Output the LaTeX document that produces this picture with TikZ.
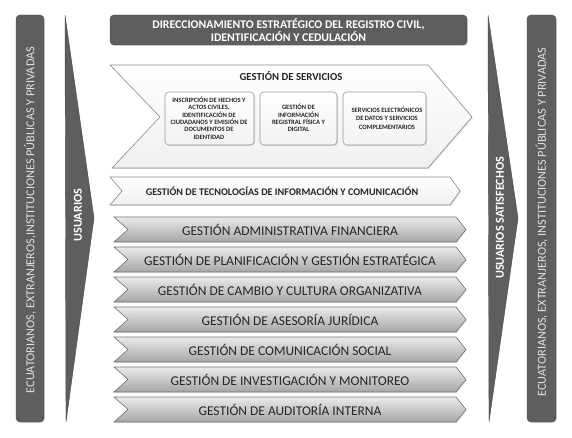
\documentclass[tikz,border=0pt]{standalone}
\usepackage{fontspec}
\setmainfont{Carlito}
\usetikzlibrary{shadows}
\definecolor{barfill}{HTML}{5E5E5E}
\definecolor{bardraw}{HTML}{4A4A4A}
\definecolor{chevdraw}{HTML}{8A8A8A}
\tikzset{
  bar/.style={fill=barfill, draw=bardraw, rounded corners=4bp, drop shadow={opacity=0.25,shadow xshift=1bp,shadow yshift=-1bp}},
  tri/.style={fill=barfill, draw=bardraw},
  bartext/.style={text=white!88!black, font=\fontsize{12.3}{14}\selectfont, rotate=90},
  tritext/.style={text=white, font=\bfseries\fontsize{12.2}{14}\selectfont, rotate=90},
  bigchev/.style={top color=white, bottom color=black!6, draw=chevdraw, line width=0.6bp, drop shadow={opacity=0.2,shadow xshift=1bp,shadow yshift=-1bp}},
  graychev/.style={top color=black!8, bottom color=black!35, draw=black!55, line width=0.6bp, drop shadow={opacity=0.2,shadow xshift=1bp,shadow yshift=-1bp}},
  grtext/.style={text=black!85, font=\fontsize{13.5}{15}\selectfont},
  inbox/.style={rounded corners=4bp, top color=white, bottom color=black!5, draw=black!40, line width=0.6bp, drop shadow={opacity=0.25,shadow xshift=1bp,shadow yshift=-1bp}},
  intext/.style={text=black!85, align=center, font=\bfseries\fontsize{6.6}{7.5}\selectfont},
}
\begin{document}
\begin{tikzpicture}[x=1bp,y=-1bp]
\useasboundingbox (0,0) rectangle (572,438);
% side bars
\path[bar] (16,15) rectangle (44,422);
\node[bartext] (lefttext) at (30,220) {ECUATORIANOS, EXTRANJEROS,INSTITUCIONES PÚBLICAS Y PRIVADAS};
\path[bar] (527,15) rectangle (556,422);
\node[bartext] (righttext) at (541.5,222) {ECUATORIANOS, EXTRANJEROS, INSTITUCIONES PÚBLICAS Y PRIVADAS};
% triangles
\path[tri] (65,15) -- (94,218) -- (66,422) -- cycle;
\node[tritext] (usu) at (78,215) {USUARIOS};
\path[tri] (488,15) -- (518,218) -- (489,422) -- cycle;
\node[tritext] (usus) at (500,218) {USUARIOS SATISFECHOS};
% top box
\path[bar] (110,15) rectangle (467,45);
\node[text=white, align=center, font=\bfseries\fontsize{11.8}{12.5}\selectfont] (dir) at (288.5,30) {DIRECCIONAMIENTO ESTRATÉGICO DEL REGISTRO CIVIL,\\IDENTIFICACIÓN Y CEDULACIÓN};
% gestion de servicios
\path[bigchev] (110,65) -- (428,65) -- (472,117) -- (428,168) -- (112,168) -- (160,117) -- cycle;
\node[text=black!85, font=\bfseries\fontsize{10.8}{12}\selectfont] (gs) at (291,76) {GESTIÓN DE SERVICIOS};
\path[inbox] (165,92) rectangle (254,145);
\node[intext] (b1) at (209,118) {INSCRIPCIÓN DE HECHOS Y\\ACTOS CIVILES,\\IDENTIFICACIÓN DE\\CIUDADANOS Y EMISIÓN DE\\DOCUMENTOS DE\\IDENTIDAD};
\path[inbox] (260,92) rectangle (337,145);
\node[intext] (b2) at (298.5,118) {GESTIÓN DE\\INFORMACIÓN\\REGISTRAL FÍSICA Y\\DIGITAL};
\path[inbox] (343,92) rectangle (426,145);
\node[intext, font=\bfseries\fontsize{6.6}{8.5}\selectfont] (b3) at (387,118) {SERVICIOS ELECTRÓNICOS\\DE DATOS Y SERVICIOS\\COMPLEMENTARIOS};
% TIC
\path[bigchev] (110,177) -- (450,177) -- (460,191) -- (450,205) -- (110,205) -- (122,191) -- cycle;
\node[text=black!85, font=\bfseries\fontsize{10.2}{12}\selectfont] (tic) at (282,191) {GESTIÓN DE TECNOLOGÍAS DE INFORMACIÓN Y COMUNICACIÓN};
% gray chevrons
\foreach \t/\i in {GESTIÓN ADMINISTRATIVA FINANCIERA/0,
  GESTIÓN DE PLANIFICACIÓN Y GESTIÓN ESTRATÉGICA/1,
  GESTIÓN DE CAMBIO Y CULTURA ORGANIZATIVA/2,
  GESTIÓN DE ASESORÍA JURÍDICA/3,
  GESTIÓN DE COMUNICACIÓN SOCIAL/4,
  GESTIÓN DE INVESTIGACIÓN Y MONITOREO/5,
  GESTIÓN DE AUDITORÍA INTERNA/6} {
  \pgfmathsetmacro\ya{217+30*\i}
  \pgfmathsetmacro\yb{\ya+25}
  \pgfmathsetmacro\ym{\ya+12.5}
  \path[graychev] (114,\ya) -- (456,\ya) -- (466,\ym) -- (456,\yb) -- (114,\yb) -- (128,\ym) -- cycle;
  \node[grtext] (g\i) at (290,\ym) {\t};
}
\end{tikzpicture}
\end{document}
